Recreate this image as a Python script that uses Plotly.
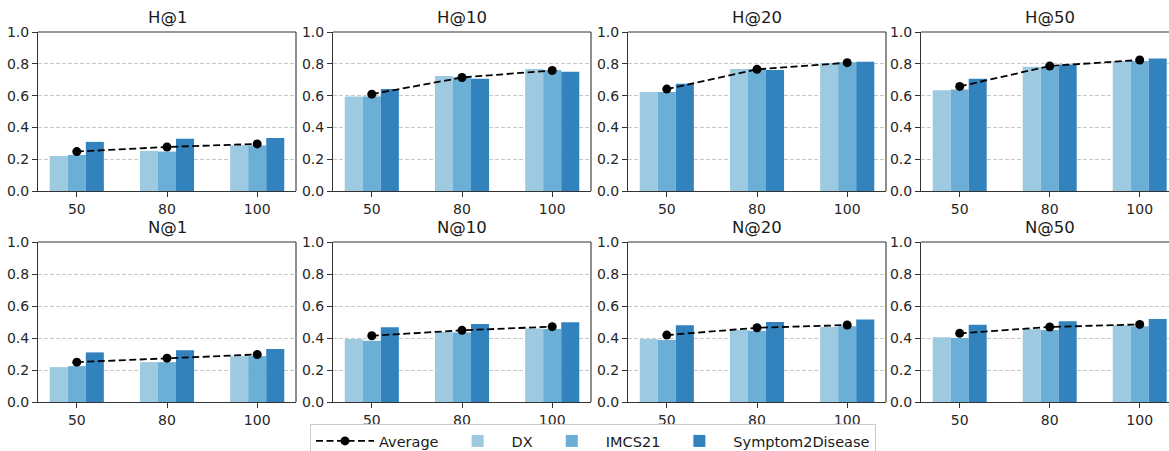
import plotly.graph_objects as go

W, H = 1169, 451

categories = ["50", "80", "100"]
metrics = ["H@1", "H@10", "H@20", "H@50", "N@1", "N@10", "N@20", "N@50"]

dx = {
    "H@1": [0.220, 0.252, 0.288],
    "H@10": [0.595, 0.723, 0.767],
    "H@20": [0.622, 0.767, 0.805],
    "H@50": [0.634, 0.782, 0.817],
    "N@1": [0.218, 0.249, 0.287],
    "N@10": [0.393, 0.437, 0.460],
    "N@20": [0.393, 0.450, 0.469],
    "N@50": [0.404, 0.456, 0.479],
}
imcs21 = {
    "H@1": [0.227, 0.248, 0.287],
    "H@10": [0.595, 0.716, 0.761],
    "H@20": [0.622, 0.767, 0.809],
    "H@50": [0.639, 0.782, 0.817],
    "N@1": [0.224, 0.249, 0.287],
    "N@10": [0.383, 0.435, 0.456],
    "N@20": [0.387, 0.446, 0.473],
    "N@50": [0.400, 0.450, 0.473],
}
symptom2disease = {
    "H@1": [0.309, 0.328, 0.334],
    "H@10": [0.641, 0.706, 0.750],
    "H@20": [0.674, 0.761, 0.813],
    "H@50": [0.706, 0.796, 0.834],
    "N@1": [0.310, 0.324, 0.331],
    "N@10": [0.467, 0.487, 0.498],
    "N@20": [0.479, 0.500, 0.515],
    "N@50": [0.483, 0.504, 0.519],
}
average = {
    "H@1": [0.248, 0.277, 0.296],
    "H@10": [0.609, 0.714, 0.758],
    "H@20": [0.641, 0.765, 0.807],
    "H@50": [0.658, 0.786, 0.824],
    "N@1": [0.249, 0.274, 0.297],
    "N@10": [0.414, 0.448, 0.471],
    "N@20": [0.418, 0.464, 0.481],
    "N@50": [0.429, 0.469, 0.485],
}
y_ticks = [0.0, 0.2, 0.4, 0.6, 0.8, 1.0]

colors = {"DX": "#9ecae1", "IMCS21": "#6baed6", "Symptom2Disease": "#3182bd"}
FONT = "DejaVu Sans"

# pixel layout
col_px = [(38, 296), (333, 591), (628, 886), (921, 1169)]
row_px = [(32, 191), (242, 402)]
xpos = [0, 1, 2]

fig = go.Figure()
shapes = []
annotations = []

for i, m in enumerate(metrics):
    r, c = divmod(i, 4)
    n = i + 1
    xa = "x" if n == 1 else f"x{n}"
    ya = "y" if n == 1 else f"y{n}"
    first = i == 0
    for name, src in [("DX", dx), ("IMCS21", imcs21), ("Symptom2Disease", symptom2disease)]:
        fig.add_trace(go.Bar(
            x=xpos, y=src[m], name=name, marker_color=colors[name],
            marker_line_width=0, xaxis=xa, yaxis=ya, showlegend=first,
            legendrank={"DX": 2, "IMCS21": 3, "Symptom2Disease": 4}[name],
        ))
    fig.add_trace(go.Scatter(
        x=xpos, y=average[m], name="Average", mode="lines+markers",
        line=dict(color="black", width=1.8, dash="7px,3.5px"),
        marker=dict(color="black", size=9),
        xaxis=xa, yaxis=ya, showlegend=first, legendrank=1,
    ))

    x0, x1 = col_px[c]
    y0, y1 = row_px[r]
    dom_x = [x0 / W, x1 / W]
    dom_y = [(H - y1) / H, (H - y0) / H]
    xr = [-0.43, 2.43] if c < 3 else [-0.43, -0.43 + (x1 - x0) / 90.0]
    axn = "" if n == 1 else str(n)
    fig.update_layout(**{
        f"xaxis{axn}": dict(
            domain=dom_x, range=xr, tickvals=xpos, ticktext=categories,
            showline=True, linecolor="#333333", linewidth=1.1,
            ticks="outside", ticklen=5, tickwidth=1.1, tickcolor="#333333",
            showgrid=False, zeroline=False, anchor=ya,
            tickfont=dict(family=FONT, size=14, color="#262626"),
        ),
        f"yaxis{axn}": dict(
            domain=dom_y, range=[0, 1], tickvals=y_ticks,
            ticktext=[f"{v:.1f}" for v in y_ticks],
            showline=True, linecolor="#333333", linewidth=1.1,
            ticks="outside", ticklen=5, tickwidth=1.1, tickcolor="#333333",
            showgrid=True, gridcolor="#c8c8c8", gridwidth=0.8, griddash="4px,2px",
            zeroline=False, anchor=xa,
            tickfont=dict(family=FONT, size=14, color="#262626"),
        ),
    })
    shapes.append(dict(type="line", xref=f"{xa} domain", yref=f"{ya} domain",
                       x0=0, x1=1, y0=1, y1=1, line=dict(color="#333333", width=1.1)))
    if c < 3:
        shapes.append(dict(type="line", xref=f"{xa} domain", yref=f"{ya} domain",
                           x0=1, x1=1, y0=0, y1=1, line=dict(color="#333333", width=1.1)))
    cx = (x0 + (x0 + 258)) / 2 / W
    annotations.append(dict(text=m, xref="paper", yref="paper", x=cx, y=(H - y0 + 3) / H,
                            xanchor="center", yanchor="bottom", showarrow=False,
                            font=dict(family=FONT, size=16.5, color="#1a1a1a")))

fig.update_layout(
    width=W, height=H,
    margin=dict(l=0, r=0, t=0, b=0, autoexpand=False),
    paper_bgcolor="white", plot_bgcolor="white",
    barmode="group", bargap=0.4, bargroupgap=0,
    shapes=shapes, annotations=annotations,
    legend=dict(orientation="h", x=(314 + 872) / 2 / W, xanchor="center", y=(H - 424) / H, yanchor="top",
                bordercolor="#cccccc", borderwidth=1, bgcolor="white",
                font=dict(family=FONT, size=14.5, color="#1a1a1a"),
                itemwidth=58, traceorder="normal"),
)

fig.write_html("out.html", config={"displayModeBar": False},
               post_script="document.body.style.margin='0';document.body.style.overflow='hidden';")
